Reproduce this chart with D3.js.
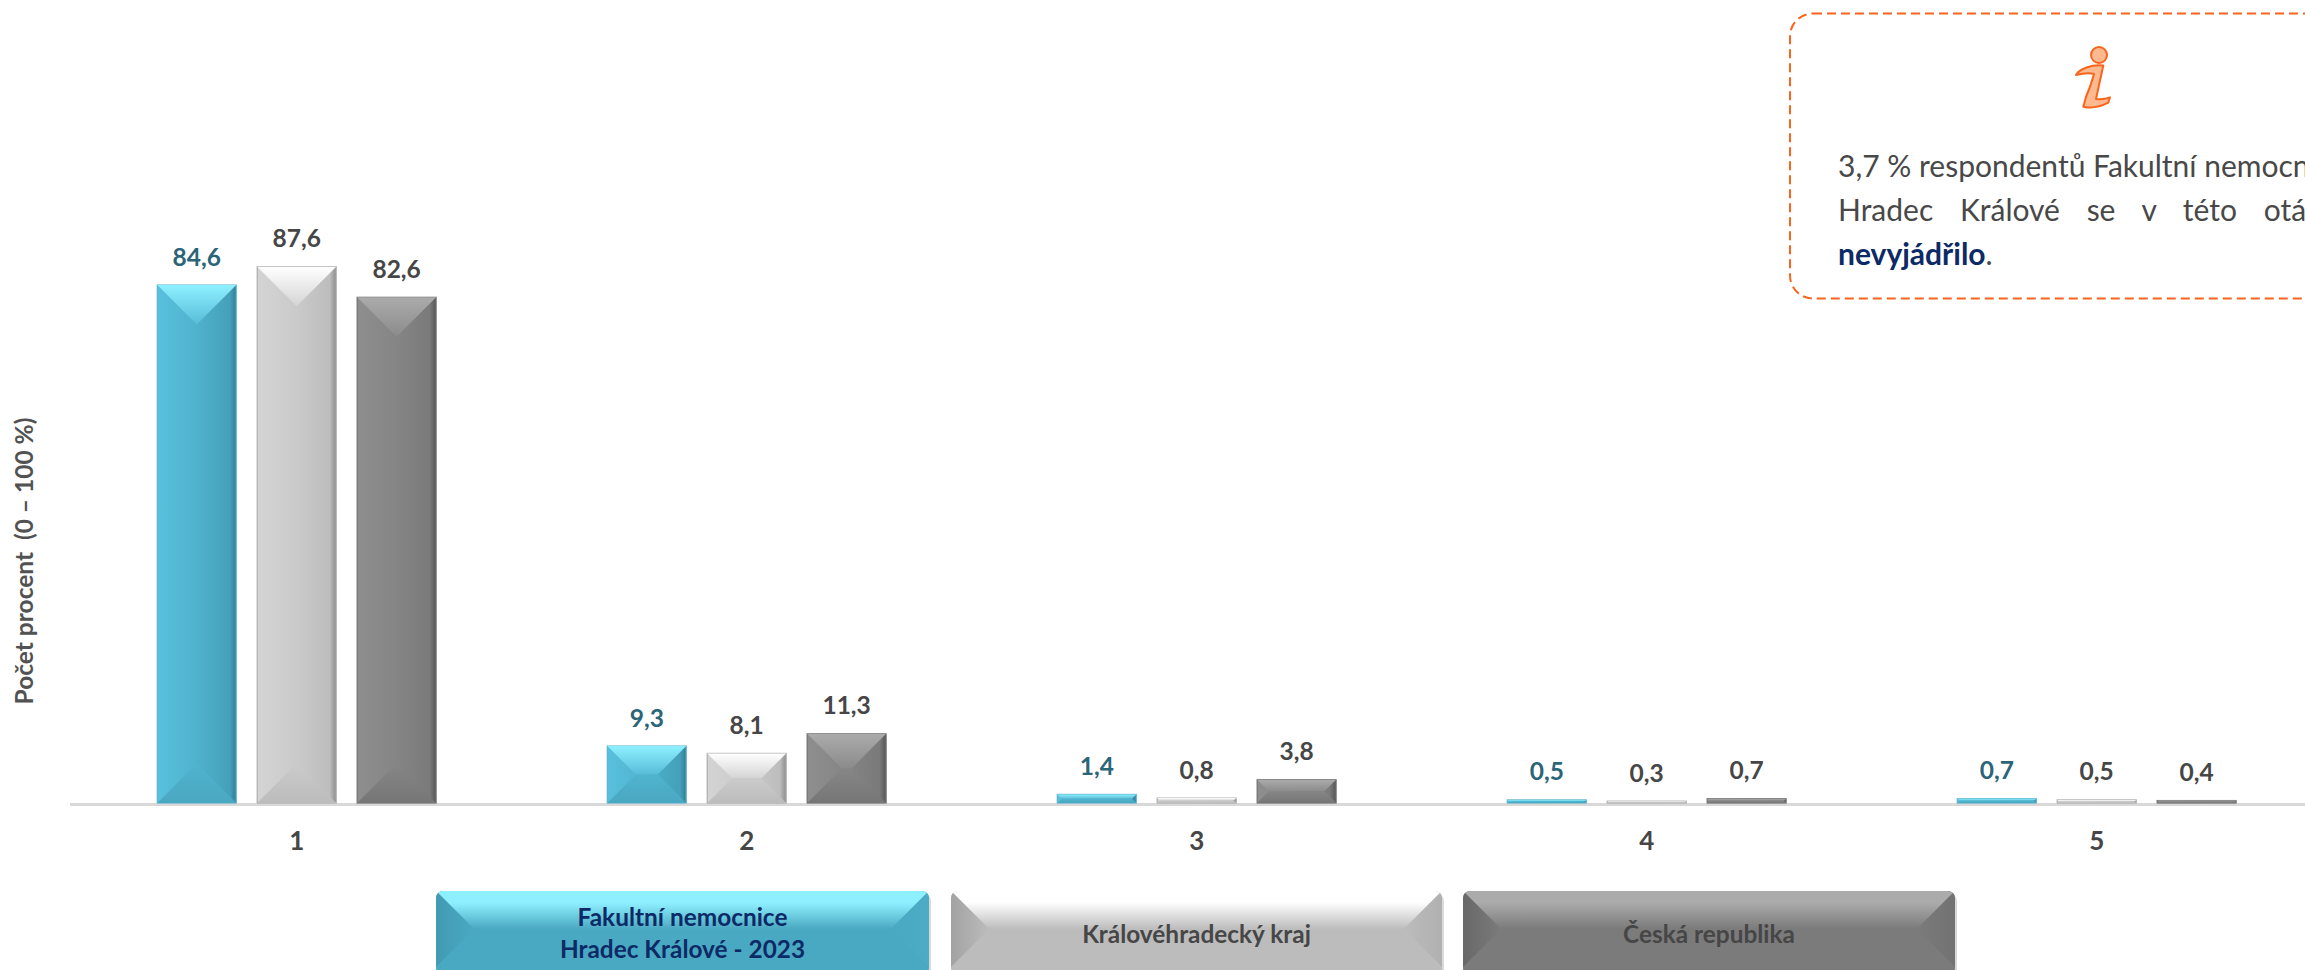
<!DOCTYPE html>
<html lang="cs">
<head>
<meta charset="utf-8">
<script src="https://cdn.jsdelivr.net/npm/d3@7"></script>
<style>
html,body{margin:0;padding:0;background:#fff;overflow:hidden}
svg{display:block;font-family:Lato,"Open Sans",sans-serif}
</style>
</head>
<body>
<svg id="chart" width="2305" height="970" viewBox="0 0 2305 970"></svg>
<script>
const categories = ["1", "2", "3", "4", "5"];
const hospital = [84.6, 9.3, 1.4, 0.5, 0.7];
const region = [87.6, 8.1, 0.8, 0.3, 0.5];
const country = [82.6, 11.3, 3.8, 0.7, 0.4];
const seriesNames = ["Fakultní nemocnice\nHradec Králové - 2023", "Královéhradecký kraj", "Česká republika"];
const yTitle = "Počet procent\u00a0\u00a0(0 – 100 %)";
const noteLines = ["3,7 % respondentů Fakultní nemocnice", "Hradec Králové se v této otázce"];
const noteBold = "nevyjádřilo";

const palettes = [
  {id:"a", left:"#58c0dd", mid:"#50b4cf", right:"#45a0b9", edge:"#2f7f96", stroke:"#5fb3cd",
   topA:"#8ef0ff", topB:"#57bcd8", bottom:"#4aa7c1", label:"#2a6578", legendText:"#0c2a66",
   face:"#4aa9c2", sideL:"#429ab3", sideR:"#4dacc5"},
  {id:"b", left:"#d4d4d4", mid:"#cbcbcb", right:"#bdbdbd", edge:"#8d8d8d", stroke:"#adadad",
   topA:"#ffffff", topB:"#d4d4d4", bottom:"#bcbcbc", label:"#464646", legendText:"#464646",
   face:"#bcbcbc", sideL:"#a2a2a2", sideR:"#b0b0b0"},
  {id:"c", left:"#8e8e8e", mid:"#868686", right:"#7a7a7a", edge:"#565656", stroke:"#707070",
   topA:"#ababab", topB:"#8b8b8b", bottom:"#767676", label:"#464646", legendText:"#464646",
   face:"#7b7b7b", sideL:"#686868", sideR:"#727272"}
];

const svg = d3.select("#chart");
const defs = svg.append("defs");

function gradient(id, stops, vertical) {
  const g = defs.append("linearGradient").attr("id", id);
  if (vertical) g.attr("x1", 0).attr("x2", 0).attr("y1", 0).attr("y2", 1);
  stops.forEach(([o, c]) => g.append("stop").attr("offset", o).attr("stop-color", c));
}

palettes.forEach(p => {
  gradient("across-" + p.id, [[0, p.left], [0.45, p.mid], [0.92, p.right], [1, p.edge]]);
  gradient("down-" + p.id, [[0, p.topA], [1, p.topB]], true);
  gradient("up-" + p.id, [[0, p.mid], [1, p.bottom]], true);
  gradient("lip-" + p.id, [[0, p.topA], [0.3, p.topA], [1, p.face]], true);
  gradient("sideL-" + p.id, [[0, p.sideL], [1, p.face]]);
  gradient("sideR-" + p.id, [[0, p.face], [1, p.sideR]]);
});

const x = d3.scaleBand().domain(categories).range([71.7, 2321.7]);
const inner = d3.scaleBand().domain(d3.range(3)).range([85.6, 364.4]).paddingInner(0.21);
const y = d3.scaleLinear().domain([0, 87.6]).range([803, 266.7]);
const seriesValues = [hospital, region, country];

// Bevelled block: facets meeting along a roof ridge.
function bevel(g, x0, y0, x1, y1, p, depth) {
  const d = depth;
  g.append("rect").attr("x", x0).attr("y", y0).attr("width", x1 - x0).attr("height", y1 - y0)
    .attr("fill", `url(#across-${p.id})`).attr("stroke", p.stroke).attr("stroke-width", 1.2);
  g.append("polygon")
    .attr("points", [[x0, y0], [x1, y0], [x1 - d, y0 + d], [x0 + d, y0 + d]].join(" "))
    .attr("fill", `url(#down-${p.id})`);
  g.append("polygon")
    .attr("points", [[x0, y1], [x1, y1], [x1 - d, y1 - d], [x0 + d, y1 - d]].join(" "))
    .attr("fill", `url(#up-${p.id})`);
}

// Baseline
svg.append("line").attr("x1", 70).attr("x2", 2305).attr("y1", 804.5).attr("y2", 804.5)
  .attr("stroke", "#d9d9d9").attr("stroke-width", 3);

// Bars and value labels
categories.forEach((cat, i) => {
  const group = svg.append("g").attr("class", "group");
  seriesValues.forEach((values, s) => {
    const p = palettes[s];
    const x0 = x(cat) + inner(s);
    const x1 = x0 + inner.bandwidth();
    const top = y(values[i]);
    const depth = Math.min(x1 - x0, y(0) - top) / 2;
    bevel(group.append("g"), x0, top, x1, y(0), p, depth);
    group.append("text").attr("x", (x0 + x1) / 2).attr("y", top - 19.5)
      .attr("text-anchor", "middle").attr("font-size", 24.5).attr("font-weight", 700)
      .attr("fill", p.label).text(values[i].toFixed(1).replace(".", ","));
  });
  group.append("text").attr("x", x(cat) + x.bandwidth() / 2).attr("y", 850)
    .attr("text-anchor", "middle").attr("font-size", 26).attr("font-weight", 700)
    .attr("fill", "#464646").text(cat);
});

// Axis title
svg.append("text").attr("transform", "translate(33,561) rotate(-90)")
  .attr("text-anchor", "middle").attr("font-size", 24.5).attr("font-weight", 700)
  .attr("fill", "#525252").text(yTitle);

// Legend
const legendBoxes = [[436, 929], [951, 1442], [1463, 1955]];
seriesNames.forEach((name, s) => {
  const p = palettes[s];
  const [x0, x1] = legendBoxes[s];
  const y0 = 891, y1 = 975, r = 7;
  const g = svg.append("g").attr("class", "legend-item");
  const clipId = "legend-clip-" + s;
  defs.append("clipPath").attr("id", clipId).append("rect")
    .attr("x", x0).attr("y", y0).attr("width", x1 - x0).attr("height", y1 - y0).attr("rx", r);
  g.append("rect").attr("x", x0 + 2).attr("y", y0 + 3).attr("width", x1 - x0).attr("height", y1 - y0)
    .attr("rx", r).attr("fill", "#000").attr("opacity", 0.15);
  const face = g.append("g").attr("clip-path", `url(#${clipId})`);
  const d = 38;
  face.append("rect").attr("x", x0).attr("y", y0).attr("width", x1 - x0).attr("height", y1 - y0)
    .attr("fill", p.face);
  face.append("polygon").attr("points", [[x0, y0], [x1, y0], [x1 - d, y0 + d], [x0 + d, y0 + d]].join(" "))
    .attr("fill", `url(#lip-${p.id})`);
  face.append("polygon").attr("points", [[x0, y0], [x0 + d, y0 + d], [x0, y0 + 2 * d]].join(" "))
    .attr("fill", `url(#sideL-${p.id})`);
  face.append("polygon").attr("points", [[x1, y0], [x1 - d, y0 + d], [x1, y0 + 2 * d]].join(" "))
    .attr("fill", `url(#sideR-${p.id})`);
  const lines = name.split("\n");
  const cx = (x0 + x1) / 2;
  lines.forEach((t, k) => {
    g.append("text").attr("x", cx)
      .attr("y", lines.length > 1 ? 925.5 + k * 32 : 943)
      .attr("text-anchor", "middle").attr("font-size", 24.4).attr("font-weight", 700)
      .attr("fill", p.legendText).text(t);
  });
});

// Note box
const note = svg.append("g").attr("class", "note");
note.append("rect").attr("x", 1790).attr("y", 13.5).attr("width", 800).attr("height", 285)
  .attr("rx", 23).attr("fill", "#fff").attr("stroke", "#f9651c").attr("stroke-width", 2)
  .attr("stroke-dasharray", "9 5");
note.append("circle").attr("cx", 2099).attr("cy", 55).attr("r", 8)
  .attr("fill", "#fdb98f").attr("stroke", "#f9651c").attr("stroke-width", 2);
note.append("path")
  .attr("d", "M2076 75C2079 69 2092 64 2103.3 65.5L2096 99C2101 99.5 2106 99 2110 97.3L2108.3 102.7C2100 107 2091 108.5 2083.3 106.7C2085 99 2087.5 92 2090 86.7C2091.5 82 2093 78 2094 74C2088 72.5 2082 73.5 2076 75Z")
  .attr("fill", "#fdb98f").attr("stroke", "#f9651c").attr("stroke-width", 2).attr("stroke-linejoin", "round");
const noteText = note.append("g").attr("font-size", 30).attr("fill", "#484848");
noteText.append("text").attr("x", 1838).attr("y", 177).text(noteLines[0]);
noteText.append("text").attr("x", 1838).attr("y", 221).attr("word-spacing", 19).text(noteLines[1]);
const last = noteText.append("text").attr("x", 1838).attr("y", 265);
last.append("tspan").attr("font-weight", 700).attr("fill", "#0c2a66").text(noteBold);
last.append("tspan").text(".");
</script>
</body>
</html>
